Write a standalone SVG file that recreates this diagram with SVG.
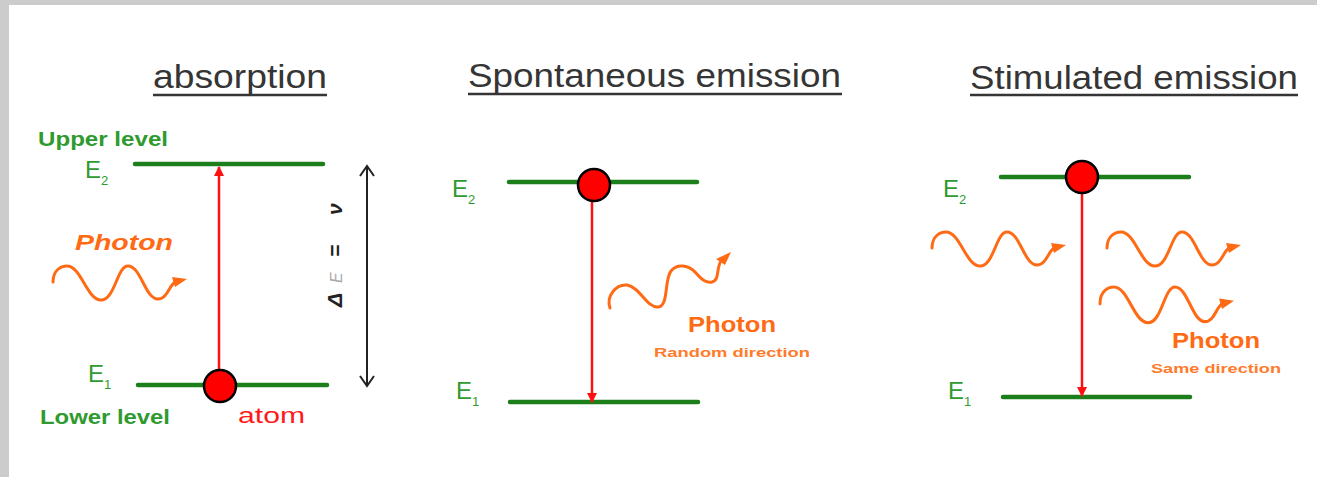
<svg xmlns="http://www.w3.org/2000/svg" width="1317" height="477" viewBox="0 0 1317 477">
<defs>
<style>
.title{font-family:"Liberation Sans",Arial,sans-serif;font-size:33px;fill:#353535}
.ul{stroke:#353535;stroke-width:2.5}
.lvl{font-family:"Liberation Sans",Arial,sans-serif;font-size:20px;font-weight:bold;fill:#2f9a2f}
.E{font-family:"Liberation Sans",Arial,sans-serif;font-size:24px;fill:#2f9a2f}
.sub{font-size:13px}
.level{stroke:#1c7f1c;stroke-width:4.5;stroke-linecap:round}
.atom{fill:#ff0000;stroke:#000;stroke-width:2.5}
.trans{stroke:#ff1010;stroke-width:2.5;fill:none}
.wave{fill:none;stroke:#ff6a14;stroke-width:3;stroke-linecap:round;stroke-linejoin:round}
.whead{fill:#ff6a14}
.ph{font-family:"Liberation Sans",Arial,sans-serif;font-size:22px;font-weight:bold;fill:#ff6a14}
.small{font-family:"Liberation Sans",Arial,sans-serif;font-size:13px;font-weight:bold;fill:#ff7a2a}
</style>
<marker id="redhead" viewBox="0 0 10 10" refX="9" refY="5" markerWidth="4" markerHeight="4" orient="auto" markerUnits="strokeWidth">
<path d="M0,0 L10,5 L0,10 z" fill="#ff1010"/>
</marker>
<g id="wave">
<path class="wave" d="M0,16 C0,4 8,0 14,0 C28,0 34,34 48,34 C62,34 64,0 75,0 C88,0 92,33 105,33 C114,33 116,20 122,16"/>
<path class="whead" d="M119,11 L134,13 L122,21 z"/>
</g>
</defs>
<rect x="0" y="0" width="1317" height="477" fill="#ffffff"/>
<rect x="0" y="0" width="1317" height="5" fill="#cccccc"/>
<rect x="0" y="0" width="9" height="477" fill="#cccccc"/>

<g id="absorption">
<text class="title" x="153" y="88" textLength="174" lengthAdjust="spacingAndGlyphs">absorption</text>
<line class="ul" x1="153" y1="95" x2="327" y2="95"/>
<text class="lvl" x="38" y="146" textLength="130" lengthAdjust="spacingAndGlyphs">Upper level</text>
<text class="E" x="85" y="178">E<tspan class="sub" dy="7">2</tspan></text>
<line class="level" x1="135" y1="164" x2="323" y2="164"/>
<line class="level" x1="138" y1="385" x2="327" y2="385"/>
<text class="E" x="88" y="382">E<tspan class="sub" dy="7">1</tspan></text>
<text class="lvl" x="40" y="424" textLength="130" lengthAdjust="spacingAndGlyphs">Lower level</text>
<text x="238" y="423" textLength="67" lengthAdjust="spacingAndGlyphs" style="font-family:'Liberation Sans',Arial,sans-serif;font-size:22px;fill:#ff1a1a">atom</text>
<text class="ph" x="75" y="250" font-style="italic" textLength="98" lengthAdjust="spacingAndGlyphs">Photon</text>
<use href="#wave" transform="translate(53,266)"/>
<line class="trans" x1="219" y1="372" x2="219" y2="167" marker-end="url(#redhead)"/>
<circle class="atom" cx="220" cy="386" r="16"/>
<line x1="367" y1="167" x2="367" y2="385" stroke="#222" stroke-width="2"/>
<polyline points="360,176 367,166 374,176" fill="none" stroke="#222" stroke-width="2"/>
<polyline points="360,376 367,386 374,376" fill="none" stroke="#222" stroke-width="2"/>
<text transform="translate(342,307) rotate(-90)" style="font-family:'Liberation Sans',Arial,sans-serif;font-size:21px;font-weight:bold;font-style:italic;fill:#222"><tspan x="0">Δ</tspan><tspan x="24" style="fill:#aaaaaa;font-weight:normal;font-size:16px">E</tspan><tspan x="50">=</tspan><tspan x="92">ν</tspan></text>
</g>

<g id="spontaneous">
<text class="title" x="468" y="87" textLength="373" lengthAdjust="spacingAndGlyphs">Spontaneous emission</text>
<line class="ul" x1="468" y1="94" x2="842" y2="94"/>
<text class="E" x="452" y="197">E<tspan class="sub" dy="7">2</tspan></text>
<line class="level" x1="509" y1="182" x2="697" y2="182"/>
<line class="level" x1="510" y1="402" x2="698" y2="402"/>
<text class="E" x="456" y="399">E<tspan class="sub" dy="7">1</tspan></text>
<line class="trans" x1="592" y1="200" x2="592" y2="402" marker-end="url(#redhead)"/>
<circle class="atom" cx="594" cy="185" r="16"/>
<path class="wave" d="M610,308 C606,296 616,284 627,285 C640,287 647,308 658,307 C669,306 664,280 671,271 C677,263 689,265 696,273 C702,280 706,283 712,282 C720,280 716,268 721,261"/>
<path class="whead" d="M716,259 L731,252 L725,265 z"/>
<text class="ph" x="688" y="332" textLength="88" lengthAdjust="spacingAndGlyphs">Photon</text>
<text class="small" x="654" y="357" textLength="156" lengthAdjust="spacingAndGlyphs">Random direction</text>
</g>

<g id="stimulated">
<text class="title" x="970" y="89" textLength="328" lengthAdjust="spacingAndGlyphs">Stimulated emission</text>
<line class="ul" x1="970" y1="95" x2="1298" y2="95"/>
<text class="E" x="943" y="197">E<tspan class="sub" dy="7">2</tspan></text>
<line class="level" x1="1001" y1="177" x2="1189" y2="177"/>
<line class="level" x1="1003" y1="397" x2="1190" y2="397"/>
<text class="E" x="948" y="399">E<tspan class="sub" dy="7">1</tspan></text>
<line class="trans" x1="1082" y1="192" x2="1082" y2="396" marker-end="url(#redhead)"/>
<circle class="atom" cx="1082" cy="177" r="16"/>
<use href="#wave" transform="translate(932,232)"/>
<use href="#wave" transform="translate(1107,232)"/>
<use href="#wave" transform="translate(1100,287) scale(1,1.05)"/>
<text class="ph" x="1172" y="348" textLength="88" lengthAdjust="spacingAndGlyphs">Photon</text>
<text class="small" x="1151" y="373" textLength="130" lengthAdjust="spacingAndGlyphs">Same direction</text>
</g>
</svg>
